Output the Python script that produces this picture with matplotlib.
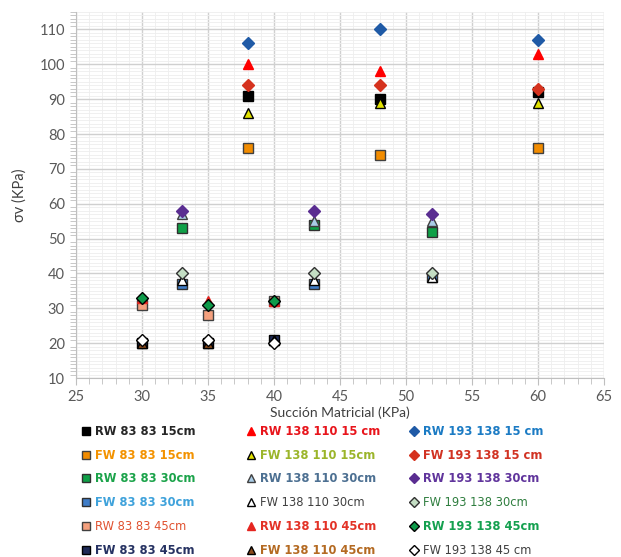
import matplotlib
matplotlib.use("Agg")
import matplotlib.pyplot as plt
from matplotlib.ticker import MultipleLocator

# Succión matricial de cada grupo de ensayos
x_15 = [38, 48, 60]
x_30 = [33, 43, 52]
x_45 = [30, 35, 40]

# Esfuerzo vertical medido (KPa), en el orden de las series
rw_83_83_15 = [91, 90, 92]
rw_138_110_15 = [100, 98, 103]
rw_193_138_15 = [106, 110, 107]
fw_83_83_15 = [76, 74, 76]
fw_138_110_15 = [86, 89, 89]
fw_193_138_15 = [94, 94, 93]
rw_83_83_30 = [53, 54, 52]
rw_138_110_30 = [57, 55, 55]
rw_193_138_30 = [58, 58, 57]
fw_83_83_30 = [37, 37, 39]
fw_138_110_30 = [38, 38, 39]
fw_193_138_30 = [40, 40, 40]
rw_83_83_45 = [31, 28, 32]
rw_138_110_45 = [33, 32, 32]
rw_193_138_45 = [33, 31, 32]
fw_83_83_45 = [20, 20, 21]
fw_138_110_45 = [20, 20, 21]
fw_193_138_45 = [21, 21, 20]

# (etiqueta, x, y, marcador, relleno, borde, color texto, negrita)
series = [
    ("RW 83 83 15cm", x_15, rw_83_83_15, "s", "#000000", "#000000", "#262626", True),
    ("RW 138 110 15 cm", x_15, rw_138_110_15, "^", "#FF0000", "#FF0000", "#E8141B", True),
    ("RW 193 138 15 cm", x_15, rw_193_138_15, "D", "#1F5AA6", "#1F5AA6", "#1B7BC4", True),
    ("FW 83 83 15cm", x_15, fw_83_83_15, "s", "#F28C00", "#404040", "#F39200", True),
    ("FW 138 110 15cm", x_15, fw_138_110_15, "^", "#E1E100", "#000000", "#9BB52A", True),
    ("FW 193 138 15 cm", x_15, fw_193_138_15, "D", "#D5321E", "#D5321E", "#D13222", True),
    ("RW 83 83 30cm", x_30, rw_83_83_30, "s", "#0FA047", "#303030", "#1BA34A", True),
    ("RW 138 110 30cm", x_30, rw_138_110_30, "^", "#A9CCE6", "#404040", "#4D7092", True),
    ("RW 193 138 30cm", x_30, rw_193_138_30, "D", "#5A2D91", "#5A2D91", "#60349C", True),
    ("FW 83 83 30cm", x_30, fw_83_83_30, "s", "#3F7DC8", "#303030", "#3FA2DB", True),
    ("FW 138 110 30cm", x_30, fw_138_110_30, "^", "#FFFFFF", "#000000", "#404040", False),
    ("FW 193 138 30cm", x_30, fw_193_138_30, "D", "#C4DEC4", "#303030", "#2E7D3E", False),
    ("RW 83 83 45cm", x_45, rw_83_83_45, "s", "#F4A07E", "#404040", "#E0512F", False),
    ("RW 138 110 45cm", x_45, rw_138_110_45, "^", "#E52520", "#E52520", "#E33226", True),
    ("RW 193 138 45cm", x_45, rw_193_138_45, "D", "#0E9A4A", "#000000", "#14A04F", True),
    ("FW 83 83 45cm", x_45, fw_83_83_45, "s", "#1F2B57", "#000000", "#263262", True),
    ("FW 138 110 45cm", x_45, fw_138_110_45, "^", "#8B4A1B", "#000000", "#B46A22", True),
    ("FW 193 138 45 cm", x_45, fw_193_138_45, "D", "#FFFFFF", "#000000", "#404040", False),
]

sizes = {"s": 7.5, "^": 7.5, "D": 6.5}

fig = plt.figure(figsize=(6.21, 5.57), dpi=100)
ax = fig.add_axes([76 / 621, 1 - 378 / 557, 528 / 621, 366 / 557])

handles = []
for lab, xs, ys, mk, fc, ec, tc, bold in series:
    h, = ax.plot(xs, ys, linestyle="none", marker=mk, ms=sizes[mk],
                 mfc=fc, mec=ec, mew=1.0, label=lab)
    handles.append(h)

ax.xaxis.set_major_locator(MultipleLocator(5))
ax.xaxis.set_minor_locator(MultipleLocator(1))
ax.yaxis.set_major_locator(MultipleLocator(10))
ax.yaxis.set_minor_locator(MultipleLocator(1))
ax.set_xlim(25, 65)
ax.set_ylim(10, 115)

ax.grid(which="major", color="#D0D0D0", lw=1.0)
ax.grid(which="minor", color="#EEEEEE", lw=0.6)
ax.set_axisbelow(True)

for s in ["top", "right"]:
    ax.spines[s].set_visible(False)
for s in ["left", "bottom"]:
    ax.spines[s].set_color("#BFBFBF")

ax.tick_params(which="both", color="#BFBFBF", labelcolor="#595959", labelsize=10.5)
ax.tick_params(which="major", length=5)
ax.tick_params(which="minor", length=4)
ax.tick_params(axis="y", which="major", length=0, pad=8)
for t in ax.get_xticklabels() + ax.get_yticklabels():
    t.set_fontfamily("Lato")

ax.set_xlabel("Succión Matricial (KPa)", fontsize=10, color="#404040",
              family="Lato", labelpad=2)
ax.set_ylabel("σv (KPa)", fontsize=10.5, color="#404040", family="Lato", labelpad=9)

# leyenda en tres columnas, una por tipo de marcador
col_x = [83, 248, 411]
for c in range(3):
    idx = [r * 3 + c for r in range(6)]
    leg = fig.legend([handles[i] for i in idx], [series[i][0] for i in idx],
                     loc="upper left", bbox_to_anchor=(col_x[c] / 621, 1 - 425 / 557),
                     frameon=False, fontsize=8.3, markerscale=0.85,
                     handlelength=0.6, handletextpad=0.45, labelspacing=0.93,
                     borderpad=0, borderaxespad=0)
    for i, txt in zip(idx, leg.get_texts()):
        txt.set_color(series[i][6])
        txt.set_fontweight("bold" if series[i][7] else "normal")

fig.savefig("out.png", dpi=100)
